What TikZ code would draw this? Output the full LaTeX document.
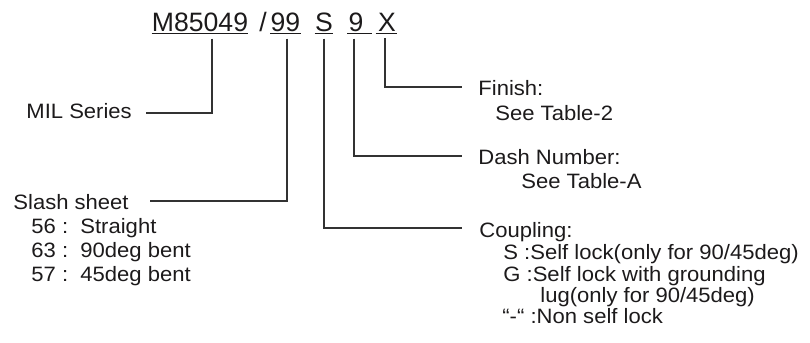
\documentclass[tikz,border=0pt]{standalone}
\usepackage{fontspec}
\newfontfamily\codefont{Liberation Sans}
\newfontfamily\labelfont[FakeStretch=1.06]{Liberation Sans}
\definecolor{inkgray}{RGB}{28, 26, 27}
\definecolor{linegray}{RGB}{50, 50, 50}
\usetikzlibrary{calc}

\begin{document}
\begin{tikzpicture}[x=0.5pt, y=-0.5pt,
  code/.style={inner sep=0pt, anchor=base, text=inkgray, font=\codefont\fontsize{13.3}{16}\selectfont},
  lbl/.style={inner sep=0pt, anchor=base west, text=inkgray, font=\labelfont\fontsize{10.4}{12}\selectfont},
  lead/.style={draw=linegray, line width=0.8pt},
  uline/.style={draw=inkgray, line width=0.9pt}]
  \useasboundingbox (0,0) rectangle (810,343);

  % Part number
  \node[code] (m85) at (200,31) {M85049};
  \node[code] (sep) at (263,31) {/};
  \node[code] (n99) at (285.5,31) {99};
  \node[code] (nS) at (324,31) {S};
  \node[code] (n9) at (356,31) {9};
  \node[code] (nX) at (387,31) {X};

  \draw[uline] ([yshift=-1.25pt]m85.base west) -- ([yshift=-1.25pt]m85.base east);
  \draw[uline] ([yshift=-1.25pt]n99.base west) -- ([yshift=-1.25pt]n99.base east);
  \draw[uline] ([yshift=-1.25pt]nS.base west) -- ([yshift=-1.25pt]nS.base east);
  \draw[uline] ([xshift=-0.5pt,yshift=-1.25pt]n9.base west) -- ([xshift=4pt,yshift=-1.25pt]n9.base east);
  \draw[uline] ([xshift=-1pt,yshift=-1.25pt]nX.base west) -- ([xshift=0.5pt,yshift=-1.25pt]nX.base east);

  % MIL series
  \node[lbl] (mil) at (26,118) {MIL Series};
  \coordinate (milend) at (146,113);

  % Slash sheet
  \node[lbl] (slash) at (13,209) {Slash sheet};
  \node[lbl] (sl56) at (31,233) {56 :\ \ Straight};
  \node[lbl] (sl63) at (31,257) {63 :\ \ 90deg bent};
  \node[lbl] (sl57) at (31,281) {57 :\ \ 45deg bent};
  \coordinate (slashend) at (150,201);

  % Finish
  \node[lbl] (fin) at (478,95) {Finish:};
  \node[lbl] (fintab) at (495,120) {See Table-2};
  \coordinate (finend) at (462,87);

  % Dash number
  \node[lbl] (dash) at (478,164) {Dash Number:};
  \node[lbl] (dashtab) at (521,188) {See Table-A};
  \coordinate (dashend) at (462,156);

  % Coupling
  \node[lbl] (coup) at (479,237) {Coupling:};
  \node[lbl] (coupS) at (503,259) {S :Self lock(only for 90/45deg)};
  \node[lbl] (coupG) at (503,281) {G :Self lock with grounding};
  \node[lbl] (couplug) at (540,302) {lug(only for 90/45deg)};
  \node[lbl] (coupN) at (502,323) {“-“ :Non self lock};
  \coordinate (coupend) at (462,228);

  % Leaders
  \draw[lead] ([xshift=6pt,yshift=-3.5pt]m85.south) |- (milend);
  \draw[lead] ([xshift=0.75pt,yshift=-3.5pt]n99.south) |- (slashend);
  \draw[lead] ([yshift=-3.5pt]nS.south) |- (coupend);
  \draw[lead] ([xshift=-1pt,yshift=-3.5pt]n9.south) |- (dashend);
  \draw[lead] ([xshift=-1pt,yshift=-3.5pt]nX.south) |- (finend);
\end{tikzpicture}
\end{document}
